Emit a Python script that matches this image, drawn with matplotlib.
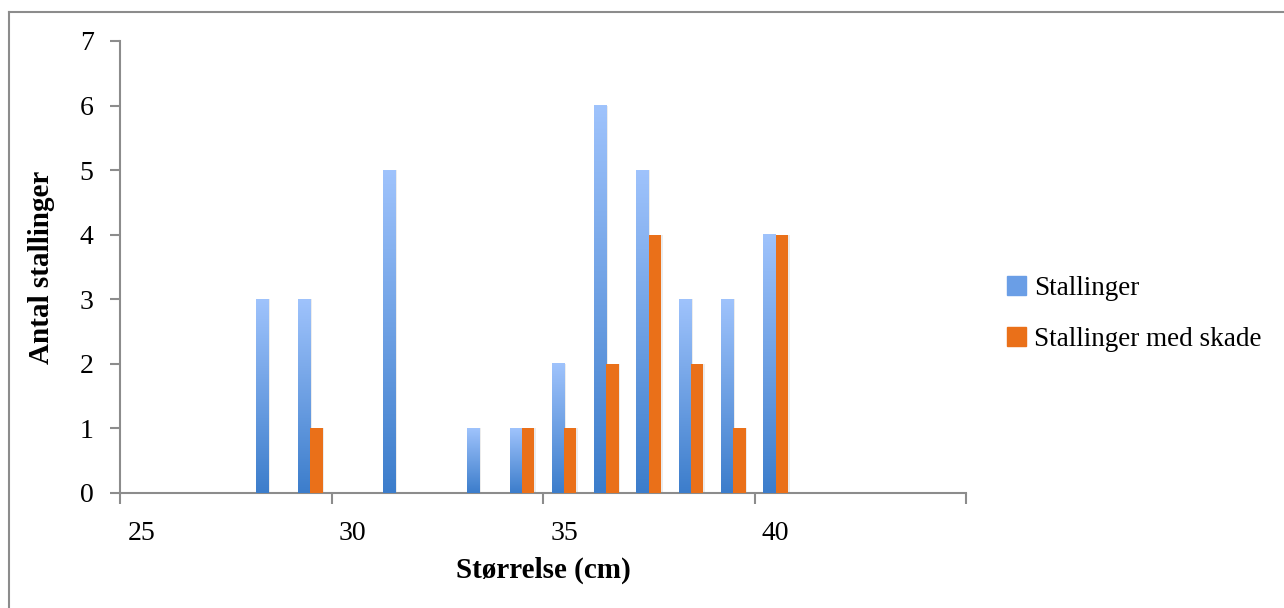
#!/usr/bin/env python3

import numpy as np
import matplotlib
matplotlib.use("Agg")
import matplotlib.pyplot as plt
from matplotlib.colors import LinearSegmentedColormap
from matplotlib.lines import Line2D

sizes = list(range(25, 45))
stallinger = [0, 0, 0, 3, 3, 0, 5, 0, 1, 1, 2, 6, 5, 3, 3, 4, 0, 0, 0, 0]
med_skade = [0, 0, 0, 0, 1, 0, 0, 0, 0, 1, 1, 2, 4, 2, 1, 4, 0, 0, 0, 0]
tick_labels = ["25", "30", "35", "40"]

plt.rcParams["font.family"] = ["Liberation Serif", "DejaVu Serif"]

blue_cmap = LinearSegmentedColormap.from_list("blu", ["#3c7dcb", "#9fc3fc"])
orange = "#ea7019"
grey = "#8c8c8c"

fig = plt.figure(figsize=(12.84, 6.08), dpi=100)
ax = fig.add_axes([120 / 1284, 1 - 493 / 608, 846 / 1284, 452 / 608])

x = np.arange(len(sizes))
w = 0.29
grad = np.linspace(0, 1, 256).reshape(-1, 1)

for xi, v in zip(x, stallinger):
    if v <= 0:
        continue
    left = xi - w
    ax.bar(left + w / 2 + 0.04, v, w, color="#ececec", zorder=1)
    ax.imshow(grad, cmap=blue_cmap, origin="lower", aspect="auto",
              extent=(left, left + w, 0, v), zorder=3, interpolation="bilinear")

ax.bar(x + w / 2 + 0.04, med_skade, w, color="#ececec", zorder=1)
ax.bar(x + w / 2, med_skade, w, color=orange, zorder=3)

ax.set_xlim(-0.5, len(sizes) - 0.5)
ax.set_ylim(0, 7)

ax.set_xticks(np.arange(-0.5, len(sizes), 5))
ax.set_xticklabels([])
ax.set_xticks(np.arange(0, len(sizes), 5), minor=True)
ax.set_xticklabels(tick_labels, minor=True)
ax.tick_params(axis="x", which="major", length=8, width=1.5, color=grey, direction="out")
ax.tick_params(axis="x", which="minor", length=0, pad=20, labelsize=20)
ax.set_yticks(range(0, 8))
ax.tick_params(axis="y", length=7, width=1.5, color=grey, direction="out", pad=12, labelsize=20)

for s in ["top", "right"]:
    ax.spines[s].set_visible(False)
for s in ["left", "bottom"]:
    ax.spines[s].set_color(grey)
    ax.spines[s].set_linewidth(1.5)

ax.set_xlabel("Størrelse (cm)", fontsize=21, fontweight="bold", labelpad=8)
ax.set_ylabel("Antal stallinger", fontsize=21, fontweight="bold", labelpad=18)

handles = [plt.Rectangle((0, 0), 1, 1, color="#6a9ee6"),
           plt.Rectangle((0, 0), 1, 1, color=orange)]
fig.legend(handles, ["Stallinger", "Stallinger med skade"], loc="center left",
           bbox_to_anchor=(983 / 1284, 1 - 314 / 608), frameon=False,
           fontsize=19.5, handlelength=0.7, handleheight=0.7, handletextpad=0.3,
           labelspacing=0.95)

fig.add_artist(Line2D([9 / 1284, 9 / 1284], [0, 1 - 12 / 608], color=grey, lw=1.5))
fig.add_artist(Line2D([9 / 1284, 1], [1 - 12 / 608, 1 - 12 / 608], color=grey, lw=1.5))

fig.savefig("out.png", dpi=100)
